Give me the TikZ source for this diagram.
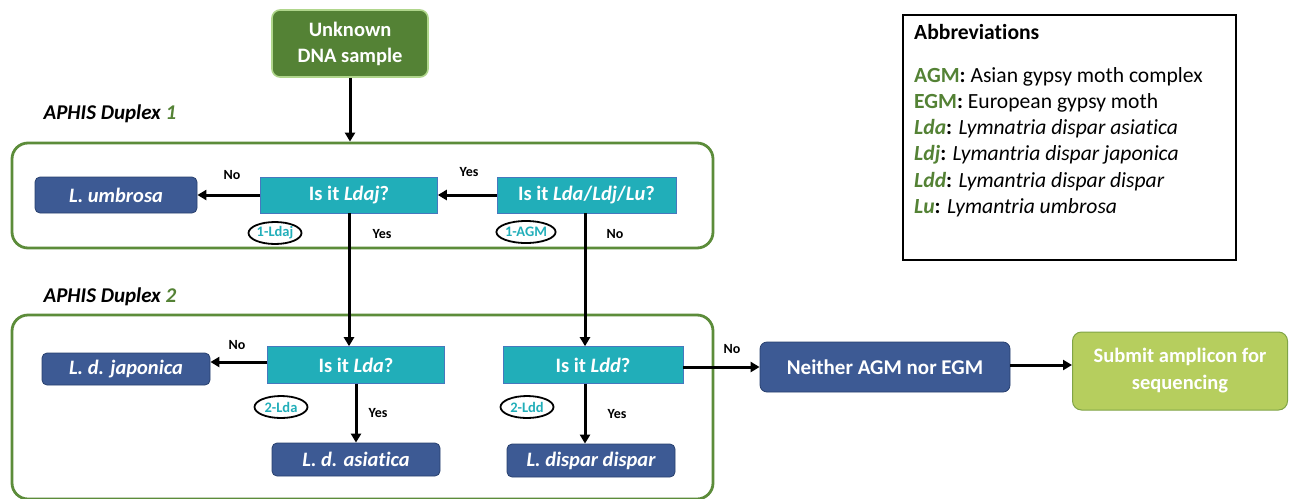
\documentclass[tikz,border=0pt]{standalone}
\usepackage{fontspec}
\setmainfont[Ligatures=NoCommon]{Carlito}
\usetikzlibrary{positioning,calc,arrows.meta,shapes.geometric}

\definecolor{dupgreen}{RGB}{84,130,53}
\definecolor{framegreen}{RGB}{92,140,58}
\definecolor{paleedge}{RGB}{176,214,140}
\definecolor{queryteal}{RGB}{33,174,185}
\definecolor{queryedge}{RGB}{70,120,190}
\definecolor{resultblue}{RGB}{61,90,148}
\definecolor{resultedge}{RGB}{40,64,110}
\definecolor{limefill}{RGB}{182,206,94}
\definecolor{limeedge}{RGB}{128,164,70}

\newcommand{\gcode}[1]{\textcolor{dupgreen}{\textbf{#1}}}
\newcommand{\gsp}[1]{\textcolor{dupgreen}{\textbf{\textit{#1}}}}

\begin{document}
\begin{tikzpicture}[x=1pt, y=-1pt,
  frame/.style={draw=framegreen, line width=2.8pt, rounded corners=16pt,
    minimum width=701pt, inner sep=0pt},
  query/.style={draw=queryedge, line width=0.6pt, fill=queryteal, text=white,
    font=\fontsize{20.5}{24}\selectfont\bfseries, minimum width=177pt,
    minimum height=36pt, inner sep=0pt},
  result/.style={draw=resultedge, line width=0.8pt, fill=resultblue,
    rounded corners=5pt, text=white,
    font=\fontsize{20.5}{24}\selectfont\bfseries\itshape,
    minimum width=168pt, minimum height=33pt, inner sep=0pt},
  assay/.style={ellipse, draw=black, line width=1.8pt, text=queryteal,
    font=\fontsize{14.5}{16}\selectfont\bfseries, minimum width=53pt,
    minimum height=22pt, inner sep=0pt},
  answer/.style={font=\fontsize{14}{16}\selectfont\bfseries},
  duplex/.style={anchor=west, font=\fontsize{21}{24}\selectfont\bfseries\itshape},
  flow/.style={line width=3pt, -{Triangle[length=9pt,width=10pt]}},
]
\useasboundingbox (0,0) rectangle (1289,498);

\node[draw=paleedge, line width=1.6pt, fill=dupgreen, rounded corners=8pt,
  text=white, align=center, font=\fontsize{20.5}{26}\selectfont\bfseries,
  minimum width=156pt, minimum height=67pt, inner sep=0pt]
  (sample) at (350,43.5) {Unknown\\DNA sample};

\node[duplex] (dup1lbl) at (40,114) {APHIS Duplex \textcolor{dupgreen}{1}};
\node[frame, minimum height=105pt] (dup1) at (362.5,195.5) {};
\node[duplex] (dup2lbl) at (40,297) {APHIS Duplex \textcolor{dupgreen}{2}};
\begin{scope}
  \clip (0,0) rectangle (1289,498);
  \node[frame, minimum height=184pt] (dup2) at (362.5,407) {};
\end{scope}

\node[result, minimum height=36pt, minimum width=162pt] (umbrosa) at (116,195) {L. umbrosa};
\node[query] (ldaj) at (349,195) {Is it \textit{Ldaj}?};
\node[query, minimum width=179pt] (agm) at (586.5,195) {Is it \textit{Lda}/\textit{Ldj}/\textit{Lu}?};
\node[assay] (e1ldaj) at (275,233) {1-Ldaj};
\node[assay] (e1agm) at (526,232) {1-AGM};

\node[result, minimum height=32pt] (japonica) at (126,369) {L. d. japonica};
\node[query, minimum height=37pt] (ldaq) at (356,365) {Is it \textit{Lda}?};
\node[query, minimum height=37pt, minimum width=180pt] (lddq) at (593,365) {Is it \textit{Ldd}?};
\node[assay] (e2lda) at (281,407) {2-Lda};
\node[assay] (e2ldd) at (527,407) {2-Ldd};
\node[result] (asiatica) at (356,459.5) {L. d. asiatica};
\node[result] (dispar) at (591,460.5) {L. dispar dispar};

\node[draw=resultedge, line width=0.8pt, fill=resultblue, rounded corners=7pt,
  text=white, font=\fontsize{21}{24}\selectfont\bfseries,
  minimum width=250pt, minimum height=50pt, inner sep=0pt]
  (neither) at (885,367) {Neither AGM nor EGM};
\node[draw=limeedge, line width=1pt, fill=limefill, rounded corners=9pt,
  text=white, align=center, font=\fontsize{20.5}{27}\selectfont\bfseries,
  minimum width=215pt, minimum height=78pt, inner sep=0pt]
  (submit) at (1180,371) {Submit amplicon for\\sequencing};

\node[draw=black, line width=2.8pt, minimum width=333pt, minimum height=245pt,
  inner sep=0pt] (abbr) at (1069.5,137.5) {};
\node[anchor=north west, align=left, inner sep=0pt,
  font=\fontsize{21.6}{26.2}\selectfont] (abbrtxt) at (914,24) {%
  \textbf{Abbreviations}\\[16.8pt]
  \gcode{AGM}\textbf{:} Asian gypsy moth complex\\
  \gcode{EGM}\textbf{:} European gypsy moth\\
  \gsp{Lda}\textbf{:} \textit{Lymnatria dispar asiatica}\\
  \gsp{Ldj}\textbf{:} \textit{Lymantria dispar japonica}\\
  \gsp{Ldd}\textbf{:} \textit{Lymantria dispar dispar}\\
  \gsp{Lu}\textbf{:} \textit{Lymantria umbrosa}};

\node[answer] (no1) at (232,175) {No};
\node[answer] (yes1) at (469,172) {Yes};
\node[answer] (yes2) at (382,234) {Yes};
\node[answer] (no2) at (615,234) {No};
\node[answer] (no3) at (237,345) {No};
\node[answer] (yes3) at (378,413) {Yes};
\node[answer] (yes4) at (617,414) {Yes};
\node[answer] (no4) at (732,349) {No};

\draw[flow] (sample.south) -- (sample.south |- dup1.north);
\draw[flow] (agm.west) -- (ldaj.east);
\draw[flow] (ldaj.west) -- (umbrosa.east);
\draw[flow] (ldaj.south) -- (ldaj.south |- ldaq.north);
\draw[flow] ([xshift=-1.5pt]agm.south) -- ([xshift=-1.5pt]agm.south |- lddq.north);
\draw[flow] ([yshift=3pt]ldaq.west) -- ([yshift=3pt]ldaq.west -| japonica.east);
\draw[flow] (ldaq.south) -- (asiatica.north);
\draw[flow] ([xshift=-8pt]lddq.south) -- ([xshift=-8pt]lddq.south |- dispar.north);
\draw[flow] ([yshift=-2pt]lddq.east) -- ([yshift=-2pt]lddq.east -| neither.west);
\draw[flow] ([yshift=2pt]neither.east) -- ([yshift=2pt]neither.east -| submit.west);
\end{tikzpicture}
\end{document}
